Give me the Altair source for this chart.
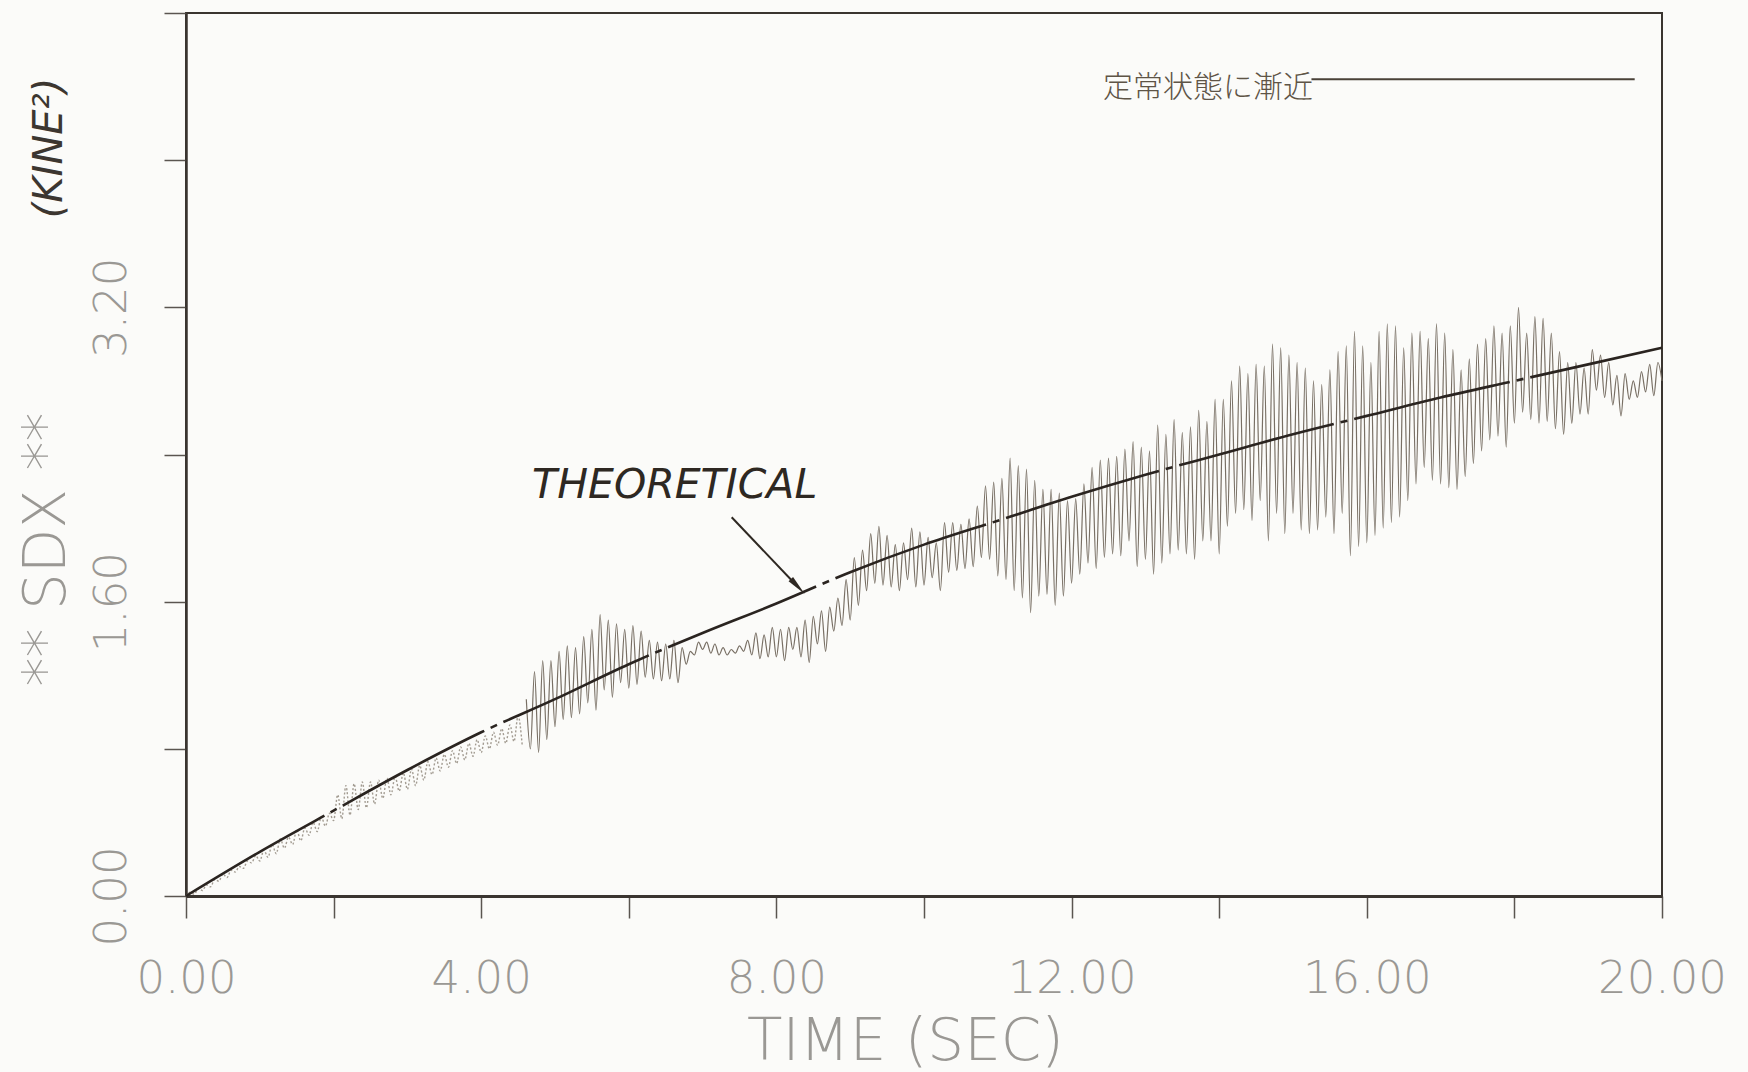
import altair as alt
import pandas as pd

# ---------------- data ----------------
theory_t = [0, 1, 2, 3, 4, 5, 6, 7, 8, 9, 10, 11, 12, 13, 14, 15, 16, 17, 18, 19, 20]
theory_v = [0.0, 0.24, 0.464, 0.685, 0.89, 1.07, 1.26, 1.43, 1.59, 1.76, 1.91,
            2.04, 2.17, 2.29, 2.40, 2.51, 2.61, 2.71, 2.80, 2.89, 2.98]

# simulated response: 9 oscillation cycles per second, trough then peak of each cycle
cycles_per_sec = 9
sim_troughs = [
    [0.00, 0.01, 0.03, 0.05, 0.08, 0.10, 0.13, 0.15, 0.18],
    [0.19, 0.21, 0.23, 0.26, 0.28, 0.30, 0.33, 0.35, 0.38],
    [0.41, 0.42, 0.44, 0.47, 0.48, 0.50, 0.53, 0.55, 0.57],
    [0.58, 0.60, 0.63, 0.66, 0.68, 0.70, 0.72, 0.74, 0.76],
    [0.78, 0.80, 0.82, 0.83, 0.84, 0.82, 0.80, 0.78, 0.85],
    [0.92, 0.96, 0.97, 0.99, 1.05, 1.01, 1.12, 1.08, 1.16],
    [1.13, 1.15, 1.19, 1.18, 1.17, 1.18, 1.16, 1.26, 1.31],
    [1.34, 1.32, 1.31, 1.31, 1.32, 1.33, 1.31, 1.29, 1.30],
    [1.30, 1.28, 1.34, 1.30, 1.27, 1.37, 1.33, 1.44, 1.47],
    [1.50, 1.58, 1.66, 1.70, 1.69, 1.68, 1.66, 1.72, 1.68],
    [1.69, 1.73, 1.66, 1.76, 1.77, 1.78, 1.79, 1.84, 1.83],
    [1.74, 1.72, 1.66, 1.62, 1.54, 1.63, 1.64, 1.58, 1.63],
    [1.70, 1.75, 1.81, 1.78, 1.84, 1.86, 1.85, 1.93, 1.79],
    [1.83, 1.75, 1.81, 1.86, 1.88, 1.86, 1.83, 1.93, 1.93],
    [1.86, 2.01, 2.08, 2.10, 2.04, 2.15, 1.93, 2.08, 1.97],
    [2.08, 1.99, 1.97, 1.99, 2.06, 1.97, 2.08, 1.85, 1.90],
    [1.92, 1.96, 2.00, 2.03, 2.06, 2.15, 2.24, 2.33, 2.26],
    [2.24, 2.22, 2.21, 2.28, 2.35, 2.42, 2.48, 2.50, 2.44],
    [2.57, 2.63, 2.59, 2.57, 2.58, 2.54, 2.51, 2.57, 2.62],
    [2.62, 2.75, 2.71, 2.67, 2.61, 2.70, 2.71, 2.74, 2.72],
]
sim_peaks = [
    [0.02, 0.04, 0.06, 0.09, 0.12, 0.14, 0.16, 0.19, 0.22],
    [0.25, 0.28, 0.31, 0.32, 0.36, 0.37, 0.40, 0.43, 0.45],
    [0.55, 0.60, 0.61, 0.62, 0.62, 0.63, 0.64, 0.65, 0.67],
    [0.69, 0.71, 0.73, 0.75, 0.77, 0.79, 0.81, 0.83, 0.85],
    [0.87, 0.89, 0.91, 0.93, 0.98, 1.07, 1.22, 1.28, 1.28],
    [1.33, 1.36, 1.35, 1.41, 1.45, 1.53, 1.50, 1.48, 1.45],
    [1.47, 1.44, 1.39, 1.38, 1.37, 1.39, 1.35, 1.33, 1.38],
    [1.38, 1.37, 1.35, 1.34, 1.36, 1.39, 1.43, 1.42, 1.46],
    [1.45, 1.46, 1.46, 1.50, 1.52, 1.55, 1.57, 1.62, 1.72],
    [1.84, 1.88, 1.97, 2.01, 1.96, 1.91, 1.92, 2.00, 1.98],
    [1.95, 1.92, 2.03, 2.03, 2.02, 2.05, 2.12, 2.23, 2.25],
    [2.27, 2.38, 2.34, 2.32, 2.26, 2.21, 2.21, 2.19, 2.15],
    [2.16, 2.24, 2.33, 2.37, 2.38, 2.39, 2.43, 2.47, 2.44],
    [2.42, 2.56, 2.51, 2.59, 2.52, 2.55, 2.64, 2.58, 2.70],
    [2.70, 2.80, 2.88, 2.84, 2.89, 2.88, 3.00, 2.98, 2.94],
    [2.90, 2.87, 2.80, 2.78, 2.86, 2.96, 2.99, 3.07, 2.99],
    [2.90, 3.07, 3.11, 3.10, 2.98, 3.06, 3.07, 3.03, 3.11],
    [3.06, 2.97, 2.86, 2.92, 3.00, 3.03, 3.10, 3.06, 3.10],
    [3.20, 3.06, 3.15, 3.14, 3.06, 2.96, 2.90, 2.90, 2.87],
    [2.97, 2.94, 2.90, 2.83, 2.84, 2.80, 2.85, 2.89, 2.90],
]
sim_end = 2.80
early_end_t = 4.61          # light dotted part of the record

x_ticks = [0, 2, 4, 6, 8, 10, 12, 14, 16, 18, 20]
y_ticks = [0, 0.8, 1.6, 2.4, 3.2, 4.0, 4.8]

steady_line = {"t": [15.25], "t2": [19.63], "v": [4.44]}
steady_text = {"t": [15.27], "v": [4.39], "label": ["定常状態に漸近"]}
theory_text = {"t": [4.69], "v": [2.163], "label": ["THEORETICAL"]}
arrow_line = {"t": [7.394], "v": [2.059], "t2": [8.28], "v2": [1.685]}
arrow_head = {"t": [8.29], "v": [1.682]}

# ---------------- build tables ----------------
vals = []
for tr_row, pk_row in zip(sim_troughs, sim_peaks):
    for tr, pk in zip(tr_row, pk_row):
        vals += [tr, pk]
vals.append(sim_end)
step = 1.0 / (2 * cycles_per_sec)
sim = pd.DataFrame({"t": [i * step for i in range(len(vals))], "v": vals})
early = sim[sim.t <= early_end_t + 1e-9]
late = sim[sim.t >= early_end_t - 1e-9]
theory = pd.DataFrame({"t": theory_t, "v": theory_v})

LABEL_COLOR = "#9a9894"
FRAME = "#3a3530"

x_enc = alt.X(
    "t:Q",
    scale=alt.Scale(domain=[0, 20], nice=False, zero=False),
    axis=alt.Axis(
        values=x_ticks,
        labelExpr="datum.value % 4 == 0 ? format(datum.value, '.2f') : ''",
        tickSize=22, tickWidth=1.5, tickColor="#5a5550",
        labelPadding=74, labelBaseline="alphabetic", labelAlign="center",
        labelFont="DejaVu Sans", labelFontSize=45, labelFontWeight=200,
        labelColor=LABEL_COLOR, labelOverlap=False, labelFlush=False,
        domainColor=FRAME, domainWidth=3, grid=False,
        title="TIME (SEC)", titleFont="DejaVu Sans", titleFontSize=58,
        titleFontWeight=200, titleColor=LABEL_COLOR,
        titleX=719, titleY=163, titleBaseline="alphabetic", titleAlign="center",
    ),
)
y_enc = alt.Y(
    "v:Q",
    scale=alt.Scale(domain=[0, 4.8], nice=False, zero=False),
    axis=alt.Axis(
        values=y_ticks,
        labelExpr="(datum.value == 0 || datum.value == 1.6 || datum.value == 3.2) ? format(datum.value, '.2f') : ''",
        tickSize=22, tickWidth=1.5, tickColor="#5a5550",
        labelAngle=270, labelAlign="center", labelBaseline="middle",
        labelPadding=53, labelFont="DejaVu Sans", labelFontSize=45,
        labelFontWeight=200, labelColor=LABEL_COLOR, labelOverlap=False,
        labelFlush=False, domainColor=FRAME, domainWidth=2.5, grid=False,
        title="**  SDX  **", titleFont="DejaVu Sans", titleFontSize=58,
        titleFontWeight=200, titleColor=LABEL_COLOR, titleAngle=270,
        titleX=-139, titleY=536, titleBaseline="middle", titleAlign="center",
    ),
)

early_layer = alt.Chart(early).mark_line(
    color="#a39c92", strokeWidth=1.4, strokeDash=[2, 2], interpolate="monotone"
).encode(x=x_enc, y=y_enc)

late_layer = alt.Chart(late).mark_line(
    color="#786f64", strokeWidth=1.2, interpolate="monotone"
).encode(x=x_enc, y=y_enc)

theory_layer = alt.Chart(theory).mark_line(
    color="#2a2420", strokeWidth=2.6, strokeDash=[160, 7, 7, 7], interpolate="monotone"
).encode(x=x_enc, y=y_enc)

steady_rule = alt.Chart(pd.DataFrame(steady_line)).mark_rule(
    color="#4a4238", strokeWidth=2.2
).encode(x=x_enc, x2="t2:Q", y=y_enc)

steady_label = alt.Chart(pd.DataFrame(steady_text)).mark_text(
    font="Noto Sans CJK JP", fontSize=30, fontWeight=300, color="#5e5446",
    align="right", baseline="middle"
).encode(x=x_enc, y=y_enc, text="label:N")

theory_label = alt.Chart(pd.DataFrame(theory_text)).mark_text(
    font="DejaVu Sans", fontSize=41, fontStyle="italic", color="#2e2822",
    align="left", baseline="alphabetic"
).encode(x=x_enc, y=y_enc, text="label:N")

arrow_rule = alt.Chart(pd.DataFrame(arrow_line)).mark_rule(
    color="#2e2822", strokeWidth=2
).encode(x=x_enc, y=y_enc, x2="t2:Q", y2="v2:Q")

arrow_tip = alt.Chart(pd.DataFrame(arrow_head)).mark_point(
    shape="M0,-1L0.3,1L-0.3,1Z", filled=True, size=420, angle=137,
    color="#2e2822", opacity=1
).encode(x=x_enc, y=y_enc)

kine = alt.Chart(pd.DataFrame({"a": [0]})).mark_text(
    text="(KINE²)", font="DejaVu Sans", fontSize=40, fontStyle="italic",
    color="#3c3630", angle=270, align="center", baseline="middle"
).encode(x=alt.value(-136), y=alt.value(135))

chart = alt.layer(
    early_layer, late_layer, theory_layer, steady_rule, steady_label,
    theory_label, arrow_rule, arrow_tip, kine
).properties(
    width=1476, height=883,
    padding={"left": 186, "top": 13, "right": 86, "bottom": 176},
    autosize=alt.AutoSizeParams(type="none"),
).configure(
    background="#fbfbf9"
).configure_view(
    stroke=FRAME, strokeWidth=2
)

chart.save("out.html", embed_options={"renderer": "svg", "actions": False})
